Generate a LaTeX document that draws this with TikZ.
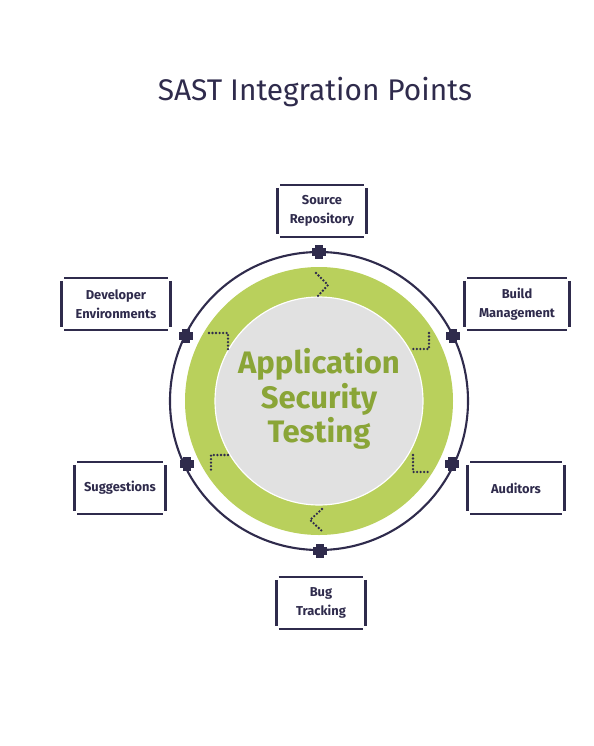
\documentclass[tikz,border=0pt]{standalone}
\usepackage{fontspec}
\setmainfont{Fira Sans}
\usepackage{xcolor}
\usetikzlibrary{positioning}

\definecolor{navy}{HTML}{2F2B4C}
\definecolor{ringgreen}{HTML}{B9D05C}
\definecolor{textgreen}{HTML}{8AA537}
\definecolor{coregray}{HTML}{E1E1E1}

% notched frame round a named node
\newcommand{\pointframe}[1]{%
  \draw[frame] ([xshift=2pt]#1.north west) -- ([xshift=-2pt]#1.north east);
  \draw[frame] ([xshift=2pt]#1.south west) -- ([xshift=-2pt]#1.south east);
  \draw[frame] ([yshift=-2.5pt]#1.north west) -- ([yshift=2.5pt]#1.south west);
  \draw[frame] ([yshift=-2.5pt]#1.north east) -- ([yshift=2.5pt]#1.south east);}

\begin{document}
\begin{tikzpicture}[x=0.3mm, y=-0.3mm,
  pointbox/.style={minimum width=#1, minimum height=44pt, inner sep=0pt,
                   align=center, text=navy, font=\fontsize{11}{16}\selectfont\bfseries},
  frame/.style={navy, line width=2.4pt},
  plug/.style={minimum size=12pt, inner sep=0pt,
               path picture={
                 \fill[navy] ([xshift=-6pt,yshift=-3.5pt]path picture bounding box.center) rectangle ++(12pt,7pt);
                 \fill[navy] ([xshift=-3.5pt,yshift=-6pt]path picture bounding box.center) rectangle ++(7pt,12pt);}},
  flow/.style={navy, line width=2.2pt, line cap=round, dash pattern=on 0pt off 3pt}
]
  \useasboundingbox (0,0) rectangle (594,746);

  \node[font=\fontsize{25.5}{30}\selectfont, text=navy] (title) at (315,92) {SAST Integration Points};

  % rings
  \coordinate (c) at (319,401);
  \draw[navy, line width=1.8pt] (c) circle[radius=149];
  \fill[ringgreen] (c) circle[radius=134];
  \filldraw[fill=coregray, draw=white, line width=1pt] (c) circle[radius=104];
  \node[text=textgreen, align=center, font=\fontsize{26.5}{29.5}\selectfont\bfseries] (ast) at (319,399)
    {Application\\Security\\Testing};

  % flow marks inside the green ring
  \draw[flow] (316,273) -- (328,285) -- (317,297);
  \draw[flow] (429,333) -- (429,349) -- (413,349);
  \draw[flow] (413,455) -- (413,472) -- (430,472);
  \draw[flow] (322,509) -- (310,520) -- (322,531);
  \draw[flow] (228,455) -- (211,455) -- (211,472);
  \draw[flow] (209,333) -- (228,333) -- (228,350);

  % plugs on the outer circle
  \node[plug] (pt) at (319,252) {};
  \node[plug] (pb) at (320,551) {};
  \node[plug] (ptr) at (453,336) {};
  \node[plug] (pbr) at (452,464) {};
  \node[plug] (ptl) at (186,336) {};
  \node[plug] (pbl) at (187,464) {};

  % integration points
  \node[pointbox=75pt] (repo) at (322,211) {Source\\Repository};
  \node[pointbox=89pt] (build) at (517,304) {Build\\Management};
  \node[pointbox=92pt] (dev) at (116,304) {Developer\\Environments};
  \node[pointbox=77pt] (sugg) at (120,488) {Suggestions};
  \node[pointbox=82pt] (audit) at (516,488) {Auditors};
  \node[pointbox=76pt] (bug) at (321,603) {Bug\\Tracking};
  \foreach \n in {repo,build,dev,sugg,audit,bug} {\pointframe{\n}}
\end{tikzpicture}
\end{document}
